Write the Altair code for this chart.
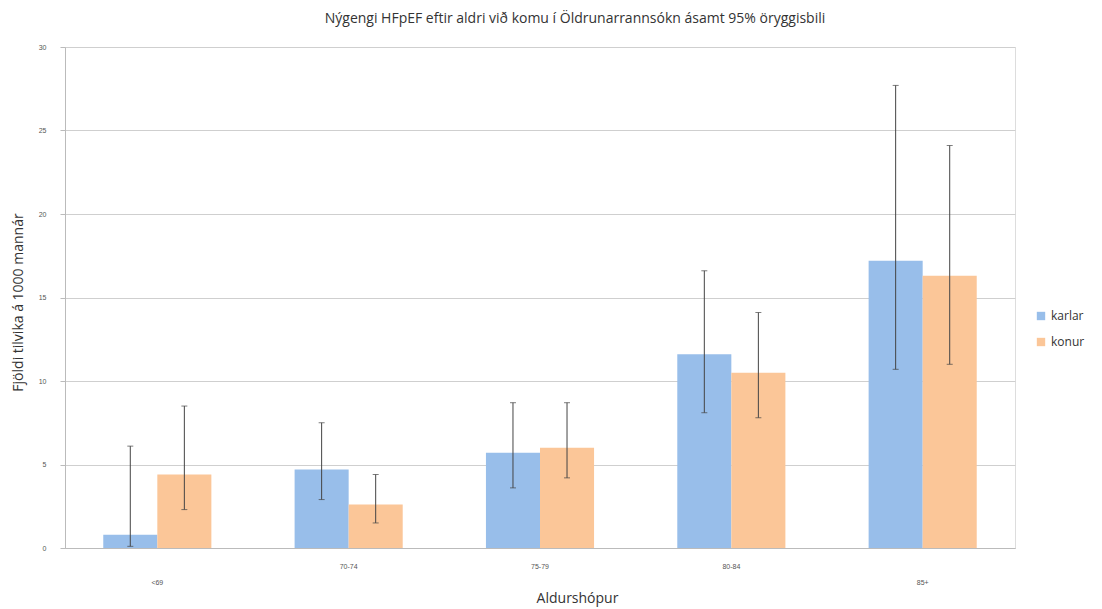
import altair as alt
import pandas as pd

groups = ["<69", "70-74", "75-79", "80-84", "85+"]
sexes = ["karlar", "konur"]
karlar_val = [0.8, 4.7, 5.7, 11.6, 17.2]
karlar_lo = [0.1, 2.9, 3.6, 8.1, 10.7]
karlar_hi = [6.1, 7.5, 8.7, 16.6, 27.7]
konur_val = [4.4, 2.6, 6.0, 10.5, 16.3]
konur_lo = [2.3, 1.5, 4.2, 7.8, 11.0]
konur_hi = [8.5, 4.4, 8.7, 14.1, 24.1]

rows = []
for i, g in enumerate(groups):
    rows.append({"grp": g, "sex": "karlar", "val": karlar_val[i], "lo": karlar_lo[i], "hi": karlar_hi[i]})
    rows.append({"grp": g, "sex": "konur", "val": konur_val[i], "lo": konur_lo[i], "hi": konur_hi[i]})
df = pd.DataFrame(rows)

FONT = "Open Sans"
xscale = alt.Scale(paddingInner=0.435, paddingOuter=0.2)
x = alt.X("grp:N", sort=groups, title="Aldurshópur", scale=xscale,
          axis=alt.Axis(labelAngle=0, labelFontSize=7, labelColor="#555", ticks=False,
                        labelPadding={"condition": {"test": "datum.value === '<69' || datum.value === '85+'", "value": 30}, "value": 14},
                        domainColor="#bbbbbb", titleFontSize=14, titleFontWeight="normal",
                        titleColor="#333", titleFont=FONT, titleX=512, titleY=43))
xo = alt.XOffset("sex:N", sort=sexes)
yscale = alt.Scale(domain=[0, 30])

base = alt.Chart(df)
bars = base.mark_bar().encode(
    x=x, xOffset=xo,
    y=alt.Y("val:Q", scale=yscale, title="Fjöldi tilvika á 1000 mannár",
            axis=alt.Axis(values=[0, 5, 10, 15, 20, 25, 30], labelFontSize=7, labelColor="#555",
                          tickSize=5, tickColor="#bbbbbb", domainColor="#bbbbbb",
                          gridColor="#cfcfcf", labelPadding=14,
                          titleFontSize=14, titleFontWeight="normal", titleColor="#333",
                          titleFont=FONT, titleX=-40, titleY=255)),
    color=alt.Color("sex:N", sort=sexes,
                    scale=alt.Scale(domain=sexes, range=["#98BEEA", "#FBC698"]),
                    legend=alt.Legend(title=None, orient="none", legendX=970, legendY=263,
                                      symbolType="square", symbolSize=70, labelFontSize=12,
                                      labelColor="#333", labelFont=FONT, rowPadding=14,
                                      symbolStrokeWidth=0)),
)
rule = base.mark_rule(color="#444", strokeWidth=1).encode(
    x=alt.X("grp:N", sort=groups, scale=xscale), xOffset=xo,
    y=alt.Y("lo:Q", scale=yscale), y2="hi:Q")
cap_lo = base.mark_tick(color="#444", size=6, thickness=1).encode(
    x=alt.X("grp:N", sort=groups, scale=xscale), xOffset=xo, y=alt.Y("lo:Q", scale=yscale))
cap_hi = base.mark_tick(color="#444", size=6, thickness=1).encode(
    x=alt.X("grp:N", sort=groups, scale=xscale), xOffset=xo, y=alt.Y("hi:Q", scale=yscale))

chart = alt.layer(bars, rule, cap_lo, cap_hi).properties(
    width=950, height=501,
    title=alt.Title("Nýgengi HFpEF eftir aldri við komu í Öldrunarrannsókn ásamt 95% öryggisbili",
                    fontSize=14, fontWeight="normal", color="#333", font=FONT,
                    anchor="middle", dx=35, offset=17),
    autosize=alt.AutoSizeParams(type="none"),
    padding={"left": 57, "top": 39, "right": 79, "bottom": 62},
).configure_view(stroke=None).configure(background="white")

chart.save("out.html", embed_options={"renderer": "svg", "actions": False})
